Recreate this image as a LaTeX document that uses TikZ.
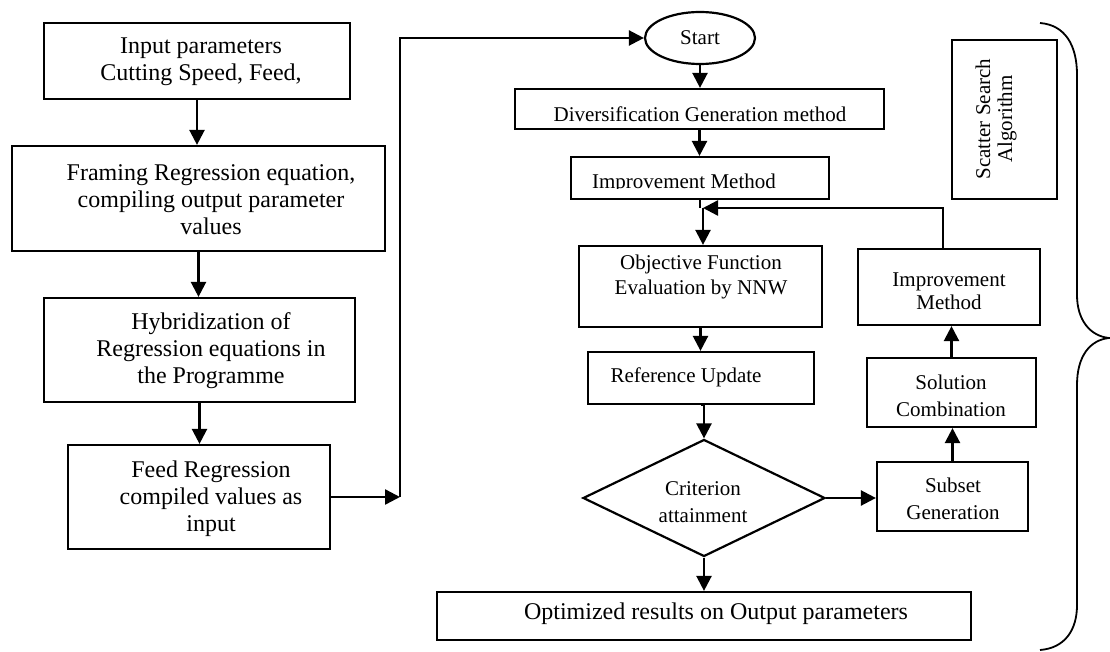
\documentclass[tikz,border=0pt]{standalone}
\usepackage{fontspec}
\setmainfont{Liberation Serif}
\usetikzlibrary{arrows.meta,shapes.geometric}
\begin{document}
\begin{tikzpicture}[x=1pt,y=-1pt,
  box/.style={draw,line width=2.2pt,inner sep=0pt,anchor=center},
  ltxt/.style={align=center,font=\fontsize{24}{27}\selectfont,inner sep=0pt},
  rtxt/.style={align=center,font=\fontsize{21}{27}\selectfont,inner sep=0pt},
  arr/.style={line width=2.4pt,-{Triangle[length=15pt,width=15pt]}},
  ln/.style={line width=2.4pt}]
\useasboundingbox (0,0) rectangle (1110,652);
% left column
\node[box,minimum width=306,minimum height=76] (b1) at (197,61) {};
\node[box,minimum width=373,minimum height=105] (b2) at (198.5,198.5) {};
\node[box,minimum width=311,minimum height=104] (b3) at (199.5,350) {};
\node[box,minimum width=262,minimum height=104] (b4) at (199,497) {};
\node[ltxt] (t1) at (201,62) {Input parameters\\Cutting Speed, Feed,};
\node[ltxt] (t2) at (211,200) {Framing Regression equation,\\compiling output parameter\\values};
\node[ltxt] (t3) at (211,351) {Hybridization of\\Regression equations in\\the Programme};
\node[ltxt] (t4) at (211,499) {Feed Regression\\compiled values as\\input};
\draw[arr] (b1.south) -- (b1.south |- b2.north);
\draw[arr] (b2.south) -- (b2.south |- b3.north);
\draw[arr] (b3.south) -- (b3.south |- b4.north);
% right column
\node[box,ellipse,minimum width=110,minimum height=52,rtxt] (start) at (700,38) {Start};
\node[box,minimum width=369,minimum height=40] (div) at (699.5,109) {};
\node[box,minimum width=258,minimum height=42] (imp1) at (700,178) {};
\node[box,minimum width=243,minimum height=81] (obj) at (700.5,286.5) {};
\node[box,minimum width=226,minimum height=52] (ref) at (701,378) {};
\node[box,diamond,minimum width=242,minimum height=117] (dia) at (704,498) {};
\node[box,minimum width=534,minimum height=48] (opt) at (704,616) {};
\node[box,minimum width=151,minimum height=69] (sub) at (952.5,496.5) {};
\node[box,minimum width=169,minimum height=69] (sol) at (951.5,392.5) {};
\node[box,minimum width=182,minimum height=76] (imp2) at (949,287) {};
\node[box,minimum width=105,minimum height=159] (ssa) at (1004.5,119.5) {};
\begin{scope}
\clip (515,89) rectangle (884,121.5);
\node[rtxt,anchor=base] (tdiv) at (700,122) {Diversification Generation method};
\end{scope}
\begin{scope}
\clip (571,157) rectangle (829,189);
\node[rtxt,anchor=base] (timp1) at (684,189) {Improvement Method};
\end{scope}
\node[rtxt,font=\fontsize{21}{25}\selectfont] (tobj) at (701,277) {Objective Function\\Evaluation by NNW};
\node[rtxt] (tref) at (686,377) {Reference Update};
\node[rtxt] (tdia) at (703,502) {Criterion\\attainment};
\node[ltxt] (topt) at (716,614) {Optimized results on Output parameters};
\node[rtxt] (tsub) at (953,499) {Subset\\Generation};
\node[rtxt] (tsol) at (951,396) {Solution\\Combination};
\node[rtxt,font=\fontsize{21}{23}\selectfont] (timp2) at (949,291) {Improvement\\Method};
\node[rtxt,font=\fontsize{21}{22}\selectfont,rotate=90] (tssa) at (996,119) {Scatter Search\\Algorithm};
% connectors
\coordinate (c1) at (400,497);
\draw[arr] (b4.east) -- (c1);
\draw[arr] (c1) |- (start.west);
\draw[arr] (start.south) -- (start.south |- div.north);
\draw[arr] (div.south) -- (div.south |- imp1.north);
\coordinate (j) at (703,208);
\draw[ln] (imp1.south) -- (imp1.south |- j);
\draw[arr] (j) -- (j |- obj.north);
\draw[arr] ([xshift=-6pt]imp2.north) |- (j);
\draw[arr] (obj.south) -- (obj.south |- ref.north);
\draw[arr] (ref.south) -- (ref.south -| dia.north) -- (dia.north);
\draw[arr] (dia.south) -- (dia.south |- opt.north);
\draw[arr] (dia.east) -- (dia.east -| sub.west);
\draw[arr] (sub.north) -- (sub.north |- sol.south);
\draw[arr] (sol.north) -- (sol.north |- imp2.south);
% brace
\draw[line width=1.8pt] (1040,23) .. controls (1065,25) and (1077,45) .. (1077,75) -- (1077,295) .. controls (1077,320) and (1090,336) .. (1109,338) .. controls (1090,340) and (1077,356) .. (1077,385) -- (1077,605) .. controls (1077,630) and (1065,648) .. (1040,650);
\end{tikzpicture}
\end{document}
